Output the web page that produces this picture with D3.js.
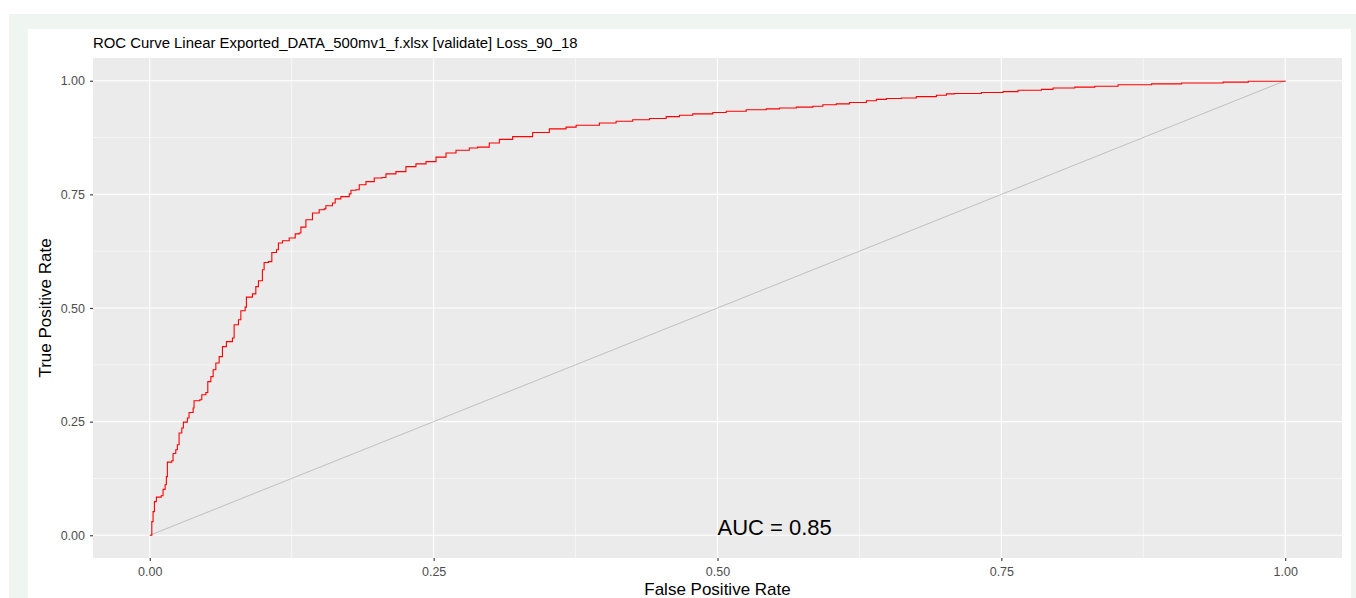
<!DOCTYPE html>
<html>
<head>
<meta charset="utf-8">
<script src="https://cdn.jsdelivr.net/npm/d3@7"></script>
<style>
  body { margin: 0; background: #ffffff; }
  text { font-family: "Liberation Sans", Arial, sans-serif; }
</style>
</head>
<body>
<script>
// ! Data
const chartTitle = "ROC Curve Linear Exported_DATA_500mv1_f.xlsx [validate] Loss_90_18";
const aucLabel = "AUC = 0.85";
const tickValues = [0, 0.25, 0.5, 0.75, 1];
const minorValues = [0.125, 0.375, 0.625, 0.875];
const tickLabels = ["0.00", "0.25", "0.50", "0.75", "1.00"];

// prettier-ignore
const fpr = [0, 0.0018, 0.0029, 0.0041, 0.0058, 0.0100, 0.0117, 0.0135, 0.0146, 0.0155,
  0.0194, 0.0205, 0.0229, 0.0243, 0.0258, 0.0282, 0.0296, 0.0331, 0.0346, 0.0382,
  0.0390, 0.0441, 0.0458, 0.0494, 0.0511, 0.0538, 0.0558, 0.0582, 0.0611, 0.0640,
  0.0675, 0.0728, 0.0743, 0.0781, 0.0802, 0.0840, 0.0851, 0.0904, 0.0934, 0.0957,
  0.0992, 0.1007, 0.1045, 0.1075, 0.1116, 0.1133, 0.1169, 0.1228, 0.1281, 0.1316,
  0.1331, 0.1375, 0.1433, 0.1492, 0.1536, 0.1551, 0.1609, 0.1633, 0.1683, 0.1757,
  0.1772, 0.1816, 0.1845, 0.1904, 0.1977, 0.2045, 0.2080, 0.2168, 0.2256, 0.2344,
  0.2433, 0.2521, 0.2609, 0.2697, 0.2814, 0.2887, 0.2990, 0.3079, 0.3196, 0.3372,
  0.3519, 0.3666, 0.3755, 0.3960, 0.4107, 0.4253, 0.4402, 0.4548, 0.4665, 0.4782,
  0.4959, 0.5077, 0.5253, 0.5429, 0.5546, 0.5694, 0.5840, 0.5928, 0.6046, 0.6163,
  0.6311, 0.6399, 0.6487, 0.6619, 0.6751, 0.6928, 0.7016, 0.7089, 0.7324, 0.7515,
  0.7647, 0.7853, 0.7955, 0.8147, 0.8323, 0.8528, 0.8823, 0.9087, 0.9453, 0.9674, 1];
// prettier-ignore
const tpr = [0, 0.030, 0.052, 0.074, 0.084, 0.087, 0.101, 0.111, 0.129, 0.161,
  0.164, 0.180, 0.188, 0.199, 0.225, 0.236, 0.249, 0.258, 0.270, 0.280,
  0.296, 0.298, 0.309, 0.314, 0.338, 0.349, 0.364, 0.379, 0.393, 0.415,
  0.426, 0.434, 0.463, 0.474, 0.494, 0.502, 0.524, 0.531, 0.547, 0.560,
  0.584, 0.600, 0.602, 0.622, 0.628, 0.643, 0.648, 0.654, 0.663, 0.665,
  0.678, 0.694, 0.709, 0.716, 0.718, 0.725, 0.731, 0.740, 0.745, 0.751,
  0.759, 0.760, 0.771, 0.778, 0.786, 0.787, 0.795, 0.800, 0.811, 0.817,
  0.822, 0.832, 0.841, 0.847, 0.852, 0.854, 0.863, 0.871, 0.877, 0.886,
  0.894, 0.898, 0.902, 0.907, 0.911, 0.914, 0.917, 0.921, 0.924, 0.927,
  0.930, 0.933, 0.936, 0.938, 0.940, 0.942, 0.944, 0.947, 0.949, 0.952,
  0.956, 0.959, 0.961, 0.962, 0.965, 0.968, 0.971, 0.972, 0.974, 0.976,
  0.979, 0.981, 0.984, 0.986, 0.988, 0.991, 0.993, 0.995, 0.997, 0.999, 1];

const width = 1356;
const height = 598;

// ! SVG and page frame
const svg = d3
  .select("body")
  .append("svg")
  .attr("width", width)
  .attr("height", height);

svg.append("rect")
  .attr("x", 9).attr("y", 14)
  .attr("width", width - 9).attr("height", height - 14)
  .attr("fill", "#eff6f2");
svg.append("rect")
  .attr("x", 28).attr("y", 29)
  .attr("width", 1351 - 28).attr("height", height - 29)
  .attr("fill", "#ffffff");

// ! Panel (ggplot expands 5% each side)
const panel = { left: 93, top: 58, right: 1342, bottom: 558 };
const xScale = d3.scaleLinear().domain([-0.05, 1.05]).range([panel.left, panel.right]);
const yScale = d3.scaleLinear().domain([-0.05, 1.05]).range([panel.bottom, panel.top]);

svg.append("rect")
  .attr("x", panel.left).attr("y", panel.top)
  .attr("width", panel.right - panel.left)
  .attr("height", panel.bottom - panel.top)
  .attr("fill", "#ebebeb");

// ! Grid lines
const grid = svg.append("g");
grid.selectAll(".minorx").data(minorValues).enter().append("line")
  .attr("x1", (d) => xScale(d)).attr("x2", (d) => xScale(d))
  .attr("y1", panel.top).attr("y2", panel.bottom)
  .attr("stroke", "#ffffff").attr("stroke-width", 0.55);
grid.selectAll(".minory").data(minorValues).enter().append("line")
  .attr("y1", (d) => yScale(d)).attr("y2", (d) => yScale(d))
  .attr("x1", panel.left).attr("x2", panel.right)
  .attr("stroke", "#ffffff").attr("stroke-width", 0.55);
grid.selectAll(".majorx").data(tickValues).enter().append("line")
  .attr("x1", (d) => xScale(d)).attr("x2", (d) => xScale(d))
  .attr("y1", panel.top).attr("y2", panel.bottom)
  .attr("stroke", "#ffffff").attr("stroke-width", 1.1);
grid.selectAll(".majory").data(tickValues).enter().append("line")
  .attr("y1", (d) => yScale(d)).attr("y2", (d) => yScale(d))
  .attr("x1", panel.left).attr("x2", panel.right)
  .attr("stroke", "#ffffff").attr("stroke-width", 1.1);

// ! Diagonal reference line
svg.append("line")
  .attr("x1", xScale(0)).attr("y1", yScale(0))
  .attr("x2", xScale(1)).attr("y2", yScale(1))
  .attr("stroke", "#b5b5b5").attr("stroke-width", 0.8);

// ! ROC curve
const rocData = fpr.map((f, i) => ({ fpr: f, tpr: tpr[i] }));
const line = d3.line()
  .x((d) => xScale(d.fpr))
  .y((d) => yScale(d.tpr))
  .curve(d3.curveStepAfter);
svg.append("path")
  .datum(rocData)
  .attr("d", line)
  .attr("fill", "none")
  .attr("stroke", "#ff0000")
  .attr("stroke-width", 1.1);

// ! Axes
const xAxisG = svg.append("g")
  .attr("transform", `translate(0, ${panel.bottom})`)
  .call(d3.axisBottom(xScale).tickValues(tickValues)
    .tickFormat((d, i) => tickLabels[i]).tickSize(3).tickPadding(6).tickSizeOuter(0));
const yAxisG = svg.append("g")
  .attr("transform", `translate(${panel.left}, 0)`)
  .call(d3.axisLeft(yScale).tickValues(tickValues)
    .tickFormat((d, i) => tickLabels[i]).tickSize(3).tickPadding(5).tickSizeOuter(0));
[xAxisG, yAxisG].forEach((g) => {
  g.select(".domain").remove();
  g.selectAll(".tick line").attr("stroke", "#333333").attr("stroke-width", 1.1);
  g.selectAll(".tick text")
    .attr("fill", "#4d4d4d")
    .style("font-size", "12.5px")
    .style("font-family", "'Liberation Sans', Arial, sans-serif");
});

// ! Titles
svg.append("text")
  .attr("x", (panel.left + panel.right) / 2)
  .attr("y", 595)
  .attr("text-anchor", "middle")
  .style("font-size", "17px")
  .text("False Positive Rate");
svg.append("text")
  .attr("transform", `translate(51, ${(panel.top + panel.bottom) / 2}) rotate(-90)`)
  .attr("text-anchor", "middle")
  .style("font-size", "17px")
  .text("True Positive Rate");
svg.append("text")
  .attr("x", panel.left)
  .attr("y", 48)
  .style("font-size", "14.9px")
  .text(chartTitle);

// ! AUC annotation
svg.append("text")
  .attr("x", xScale(0.5))
  .attr("y", yScale(0))
  .style("font-size", "22px")
  .text(aucLabel);
</script>
</body>
</html>
